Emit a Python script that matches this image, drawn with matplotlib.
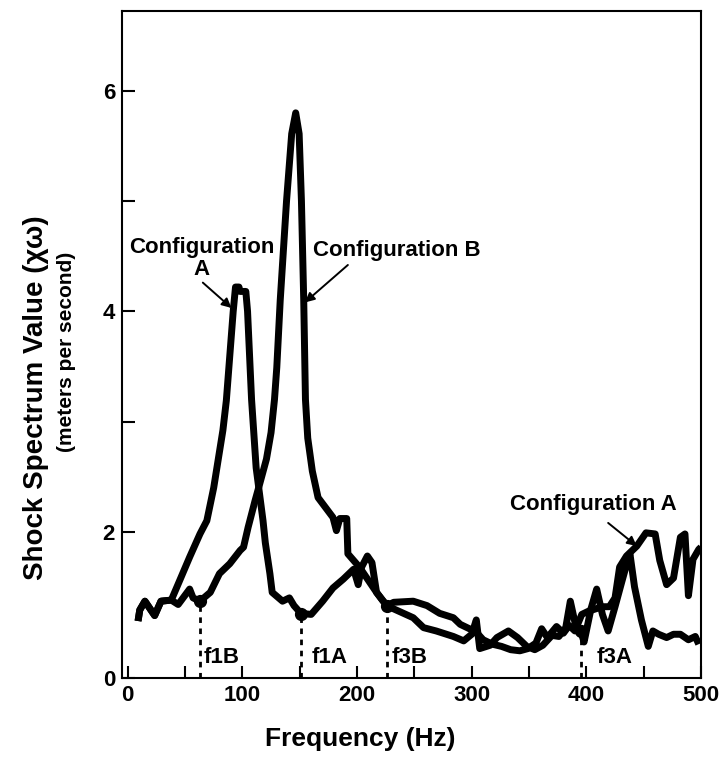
import numpy as np
import matplotlib.pyplot as plt

plt.rcParams['font.family'] = ['Liberation Sans', 'DejaVu Sans']
plt.rcParams['font.weight'] = 'bold'

# Configuración A (pico cerca de 100 Hz)
freq_a = [9, 10.5, 15, 23.5, 29, 38, 45, 54, 63, 69, 75, 83, 86, 92, 94, 97, 98, 103,
          104.5, 108, 112, 118, 120, 124, 126, 135, 141, 145, 151, 160, 170, 179,
          188, 197, 201, 204, 209, 213, 217, 222, 226, 232, 249, 261, 272, 284, 290,
          298, 303, 310, 318, 326, 334, 342, 349, 356, 361, 366, 374, 380, 385, 390,
          396, 402, 408, 414, 420, 425, 429, 435, 444, 452, 460, 464, 470, 476, 482,
          486, 489, 493, 498, 500]
shock_a = [1.19, 1.29, 1.37, 1.24, 1.37, 1.38, 1.55, 1.77, 1.98, 2.10, 2.40, 2.92, 3.19,
           4.00, 4.22, 4.22, 4.18, 4.18, 4.00, 3.20, 2.58, 2.10, 1.90, 1.62, 1.45, 1.37,
           1.40, 1.33, 1.26, 1.25, 1.37, 1.49, 1.57, 1.66, 1.52, 1.68, 1.78, 1.72, 1.45,
           1.38, 1.33, 1.36, 1.37, 1.33, 1.26, 1.22, 1.16, 1.12, 1.10, 1.02, 0.98, 0.96,
           0.93, 0.92, 0.94, 0.99, 1.12, 1.04, 1.14, 1.08, 1.15, 1.10, 1.25, 1.28, 1.30,
           1.32, 1.32, 1.40, 1.68, 1.78, 1.87, 1.99, 1.98, 1.74, 1.52, 1.58, 1.95, 1.98,
           1.42, 1.75, 1.84, 1.86]

# Configuración B (pico cerca de 150 Hz)
freq_b = [9, 10.5, 15, 23.5, 29, 38, 44, 54, 57, 63, 72, 80, 89, 98, 101, 105, 111,
          115, 121, 125, 128, 130, 133, 138.5, 143, 146.5, 149.5, 151.5, 153.5, 155,
          157, 161, 166, 179, 182, 185, 191, 192, 202, 217, 226, 232, 249, 258, 269,
          284, 293, 300, 304, 307, 316, 322, 332, 340, 348, 355, 362, 370, 376, 382,
          386, 390, 395, 398, 404, 409, 414, 419, 425, 431, 435, 438, 442, 448, 454,
          458, 463, 470, 476, 482, 489, 495, 498]
shock_b = [1.19, 1.29, 1.37, 1.24, 1.37, 1.38, 1.34, 1.48, 1.40, 1.37, 1.45, 1.62, 1.71,
           1.83, 1.86, 2.04, 2.28, 2.43, 2.66, 2.90, 3.20, 3.49, 4.10, 5.00, 5.61, 5.80,
           5.61, 5.00, 4.10, 3.20, 2.85, 2.55, 2.31, 2.13, 2.01, 2.12, 2.12, 1.80, 1.68,
           1.45, 1.33, 1.30, 1.22, 1.13, 1.10, 1.05, 1.01, 1.07, 1.20, 0.94, 0.97, 1.04,
           1.10, 1.04, 0.96, 0.93, 0.97, 1.06, 1.05, 1.13, 1.37, 1.18, 1.10, 1.00, 1.30,
           1.48, 1.25, 1.10, 1.32, 1.55, 1.70, 1.80, 1.50, 1.20, 0.96, 1.10, 1.07, 1.04,
           1.07, 1.07, 1.02, 1.05, 0.98]

# Frecuencias marcadas con punto y línea punteada
mark_freq = [62.8, 151.5, 226.5, 395]
mark_val = [1.37, 1.25, 1.33, 1.10]
mark_text = ['f1B', 'f1A', 'f3B', 'f3A']
text_freq = [66, 160, 230, 409]

y_bottom = 0.673  # el "0" del eje está a esta altura en la figura original

fig = plt.figure(figsize=(7.21, 7.62), dpi=100)
ax = fig.add_axes([0.1692, 0.1102, 0.8031, 0.8758])

ax.plot(freq_a, shock_a, color='black', linewidth=5, solid_joinstyle='round',
        solid_capstyle='butt')
ax.plot(freq_b, shock_b, color='black', linewidth=5, solid_joinstyle='round',
        solid_capstyle='butt')

for f, v, t, tf in zip(mark_freq, mark_val, mark_text, text_freq):
    ax.plot([f, f], [y_bottom, v], color='black', linewidth=2, linestyle=(0, (2, 2)))
    ax.plot(f, v, 'o', color='black', markersize=8.5)
    ax.text(tf, 0.86, t, fontsize=16, fontweight='bold', ha='left', va='center')

# Etiquetas con flechas
arrow = dict(arrowstyle='-|>', color='black', lw=1.4, mutation_scale=14, shrinkA=0, shrinkB=0)
ax.text(64.5, 4.48, 'Configuration\nA', fontsize=16, fontweight='bold', ha='center',
        va='center', linespacing=1.1)
ax.annotate('', xy=(90.5, 4.03), xytext=(65.5, 4.26), arrowprops=arrow)
ax.text(234.5, 4.55, 'Configuration B', fontsize=16, fontweight='bold', ha='center', va='center')
ax.annotate('', xy=(154.5, 4.08), xytext=(192, 4.42), arrowprops=arrow)
ax.text(406, 2.25, 'Configuration A', fontsize=16, fontweight='bold', ha='center', va='center')
ax.annotate('', xy=(444, 1.87), xytext=(419, 2.08), arrowprops=arrow)

ax.set_xlim(-5, 500)
ax.set_ylim(y_bottom, 6.727)
ax.set_xticks(np.arange(0, 501, 50))
ax.set_xticklabels(['0', '', '100', '', '200', '', '300', '', '400', '', '500'])
ax.set_yticks([y_bottom, 2, 3, 4, 5, 6])
ax.set_yticklabels(['0', '2', '', '4', '', '6'])
ax.tick_params(direction='in', length=9, width=1.5, labelsize=16, pad=5)
for lab in ax.get_xticklabels() + ax.get_yticklabels():
    lab.set_fontweight('bold')
for s in ax.spines.values():
    s.set_linewidth(1.5)

fig.text(0.5, 0.03, 'Frequency (Hz)', fontsize=19, fontweight='bold', ha='center', va='center')
fig.text(0.050, 0.478, 'Shock Spectrum Value (χω)', fontsize=20, fontweight='bold',
         rotation=90, ha='center', va='center')
fig.text(0.092, 0.538, '(meters per second)', fontsize=15, fontweight='bold',
         rotation=90, ha='center', va='center')

fig.savefig('out.png', dpi=100)
